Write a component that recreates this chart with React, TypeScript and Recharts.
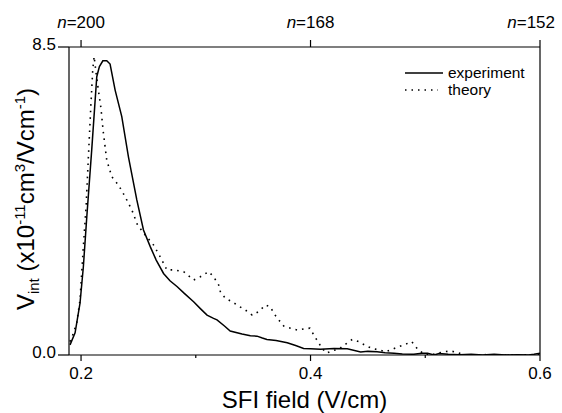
import React from 'react';
import { LineChart, Line, XAxis, YAxis, Legend } from 'recharts';

// experiment (solid) - field in V/cm, signal in 1e-11 cm^3/(V/cm)
const expField = [
  0.1904, 0.1948, 0.1991, 0.202, 0.205, 0.2093, 0.2137, 0.216, 0.219, 0.2224,
  0.2253, 0.2297, 0.2355, 0.2413, 0.2486, 0.2544, 0.2603, 0.2655, 0.2719, 0.2775,
  0.2836, 0.29, 0.2981, 0.304, 0.3098, 0.3155, 0.3185, 0.325, 0.33, 0.3403,
  0.3476, 0.3534, 0.358, 0.362, 0.37, 0.3797, 0.387, 0.394, 0.4, 0.4087,
  0.4204, 0.432, 0.4437, 0.45, 0.458, 0.465, 0.4728, 0.48, 0.49, 0.497,
  0.502, 0.5077, 0.512, 0.52, 0.53, 0.54, 0.55, 0.56, 0.57, 0.58,
  0.59, 0.5948, 0.6,
];
const expSignal = [
  0.28, 0.61, 1.43, 2.43, 3.81, 5.66, 7.68, 7.96, 8.12, 8.12,
  8.03, 7.31, 6.58, 5.47, 4.28, 3.45, 2.99, 2.62, 2.25, 2.05,
  1.89, 1.7, 1.47, 1.28, 1.1, 1.01, 0.97, 0.8, 0.66, 0.58,
  0.53, 0.52, 0.47, 0.43, 0.4, 0.34, 0.26, 0.18, 0.17, 0.16,
  0.18, 0.17, 0.08, 0.1, 0.09, 0.06, 0.05, 0.03, 0.02, 0.05,
  0.05, 0.0, 0.04, 0.02, 0.01, 0.02, 0.0, 0.02, 0.0, 0.01,
  0.0, 0.02, 0.05,
];

// theory (dotted)
const theoryField = [
  0.1904, 0.1933, 0.1962, 0.1991, 0.202, 0.2044, 0.2064, 0.2085, 0.2102, 0.2114,
  0.2131, 0.2151, 0.2172, 0.2195, 0.2224, 0.2268, 0.2326, 0.2384, 0.2443, 0.2492,
  0.2559, 0.2631, 0.269, 0.2748, 0.2806, 0.2894, 0.2981, 0.304, 0.3112, 0.3155,
  0.32, 0.3214, 0.3258, 0.3316, 0.3374, 0.3432, 0.3491, 0.3549, 0.3607, 0.365,
  0.368, 0.3723, 0.3767, 0.3825, 0.3884, 0.3941, 0.3994, 0.4029, 0.4064, 0.4102,
  0.414, 0.419, 0.4247, 0.4306, 0.4364, 0.4421, 0.448, 0.4538, 0.4596, 0.4655,
  0.4713, 0.4771, 0.483, 0.4882, 0.4932, 0.499, 0.5048, 0.5106, 0.5164, 0.5223,
  0.528, 0.534, 0.55, 0.57, 0.6,
];
const theorySignal = [
  0.37, 0.6, 0.88, 1.52, 2.99, 4.09, 5.47, 6.85, 7.87, 8.24,
  7.78, 7.31, 6.85, 6.12, 5.38, 4.92, 4.69, 4.37, 4.0, 3.59,
  3.31, 3.04, 2.71, 2.35, 2.35, 2.3, 2.07, 2.16, 2.3, 2.16,
  1.93, 1.75, 1.56, 1.47, 1.35, 1.24, 1.1, 1.2, 1.38, 1.33,
  1.15, 0.97, 0.8, 0.74, 0.69, 0.72, 0.74, 0.55, 0.37, 0.18,
  0.05, 0.12, 0.16, 0.3, 0.43, 0.37, 0.26, 0.18, 0.14, 0.09,
  0.16, 0.23, 0.3, 0.37, 0.17, 0.02, 0.0, 0.05, 0.09, 0.11,
  0.07, 0.0, 0.01, 0.0, 0.01,
];

const bottomTicks = [0.2, 0.3, 0.4, 0.5, 0.6];
const majorTicks = [0.2, 0.4, 0.6];
const topTicks = [0.2, 0.4, 0.6];
const topLabels = ['200', '168', '152'];
const yTicks = [0, 8.5];

const FONT = '"Liberation Sans", Arial, Helvetica, sans-serif';

const experiment = expField.map((x, i) => ({ x, v: expSignal[i] }));
const theory = theoryField.map((x, i) => ({ x, v: theorySignal[i] }));

const BottomTick = ({ x, y, payload }: any) => {
  const major = majorTicks.some(t => Math.abs(t - payload.value) < 1e-6);
  return (
    <g>
      <line x1={x} x2={x} y1={y} y2={y + (major ? 6 : 3)} stroke="#000" strokeWidth={1.2} />
      {major && (
        <text x={x} y={y + 24} textAnchor="middle" fontSize={17} fill="#000" fontFamily={FONT}>
          {payload.value.toFixed(1)}
        </text>
      )}
    </g>
  );
};

const TopTick = ({ x, y, index }: any) => {
  // last label sits against the right edge, like the original
  const last = index === topLabels.length - 1;
  return (
    <g>
      <line x1={x} x2={x} y1={y} y2={y - 7} stroke="#000" strokeWidth={1.2} />
      <text
        x={last ? x + 15 : x}
        y={y - 19}
        textAnchor={last ? 'end' : 'middle'}
        fontSize={17}
        fill="#000"
        fontFamily={FONT}
      >
        <tspan fontStyle="italic">n</tspan>={topLabels[index]}
      </text>
    </g>
  );
};

const LeftTick = ({ x, y, payload }: any) => (
  <g>
    <line x1={x - 11} x2={x} y1={y} y2={y} stroke="#000" strokeWidth={1.2} />
    <text x={x - 13} y={y + 3} textAnchor="end" fontSize={17} fill="#000" fontFamily={FONT}>
      {payload.value.toFixed(1)}
    </text>
  </g>
);

const XTitle = ({ viewBox }: any) => {
  const cx = viewBox ? viewBox.x + viewBox.width / 2 : 305;
  return (
    <text x={cx} y={408} textAnchor="middle" fontSize={24} fill="#000" fontFamily={FONT}>
      SFI field (V/cm)
    </text>
  );
};

const YTitle = () => {
  const cx = 34;
  const cy = 199;
  return (
    <text
      x={cx}
      y={cy}
      transform={`rotate(-90, ${cx}, ${cy})`}
      textAnchor="middle"
      fontSize={24}
      fill="#000"
      fontFamily={FONT}
    >
      <tspan>V</tspan>
      <tspan dy={5} fontSize={15}>int</tspan>
      <tspan dy={-5}> (x10</tspan>
      <tspan dy={-9} fontSize={15}>-11</tspan>
      <tspan dy={9}>cm</tspan>
      <tspan dy={-9} fontSize={15}>3</tspan>
      <tspan dy={9}>/Vcm</tspan>
      <tspan dy={-9} fontSize={15}>-1</tspan>
      <tspan dy={9}>)</tspan>
    </text>
  );
};

const renderLegend = () => (
  <div style={{ fontFamily: FONT, fontSize: 15.5, color: '#000', lineHeight: '17px' }}>
    <div style={{ display: 'flex', alignItems: 'center' }}>
      <svg width={43} height={17}>
        <line x1={0} x2={38} y1={9} y2={9} stroke="#000" strokeWidth={1.4} />
      </svg>
      <span>experiment</span>
    </div>
    <div style={{ display: 'flex', alignItems: 'center' }}>
      <svg width={43} height={17}>
        <line x1={0} x2={33} y1={9} y2={9} stroke="#000" strokeWidth={1.5} strokeDasharray="1.5 5" />
      </svg>
      <span>theory</span>
    </div>
  </div>
);

export default function App() {
  return (
    <div style={{ position: 'absolute', left: 0, top: 0, width: 562, height: 413, background: '#fff' }}>
      <LineChart width={562} height={413} margin={{ top: 0, right: 0, bottom: 0, left: 0 }}>
        <XAxis
          dataKey="x"
          type="number"
          domain={[0.1895, 0.6]}
          allowDataOverflow
          ticks={bottomTicks}
          interval={0}
          height={58}
          tickSize={0}
          tickMargin={0}
          tickLine={false}
          tick={<BottomTick />}
          axisLine={{ stroke: '#000', strokeWidth: 1.2 }}
          label={<XTitle />}
        />
        <XAxis
          xAxisId="top"
          dataKey="x"
          type="number"
          orientation="top"
          domain={[0.1895, 0.6]}
          allowDataOverflow
          ticks={topTicks}
          interval={0}
          height={47}
          tickSize={0}
          tickMargin={0}
          tickLine={false}
          tick={<TopTick />}
          axisLine={{ stroke: '#000', strokeWidth: 1.2 }}
        />
        <YAxis
          type="number"
          domain={[0, 8.5]}
          allowDataOverflow
          ticks={yTicks}
          interval={0}
          width={69}
          tickSize={0}
          tickMargin={0}
          tickLine={false}
          tick={<LeftTick />}
          axisLine={{ stroke: '#000', strokeWidth: 1.2 }}
          label={<YTitle />}
        />
        <YAxis
          yAxisId="r"
          orientation="right"
          type="number"
          domain={[0, 8.5]}
          width={22}
          tick={false}
          tickLine={false}
          axisLine={{ stroke: '#000', strokeWidth: 1.2 }}
        />
        <Legend
          layout="vertical"
          verticalAlign="middle"
          align="center"
          content={renderLegend}
          wrapperStyle={{ position: 'absolute', left: 405, top: 64, width: 140, height: 36 }}
        />
        <Line
          data={experiment}
          dataKey="v"
          type="linear"
          stroke="#000"
          strokeWidth={1.5}
          dot={false}
          isAnimationActive={false}
          name="experiment"
        />
        <Line
          data={theory}
          dataKey="v"
          type="linear"
          stroke="#000"
          strokeWidth={1.6}
          strokeDasharray="1.6 5"
          dot={false}
          isAnimationActive={false}
          name="theory"
        />
      </LineChart>
    </div>
  );
}
